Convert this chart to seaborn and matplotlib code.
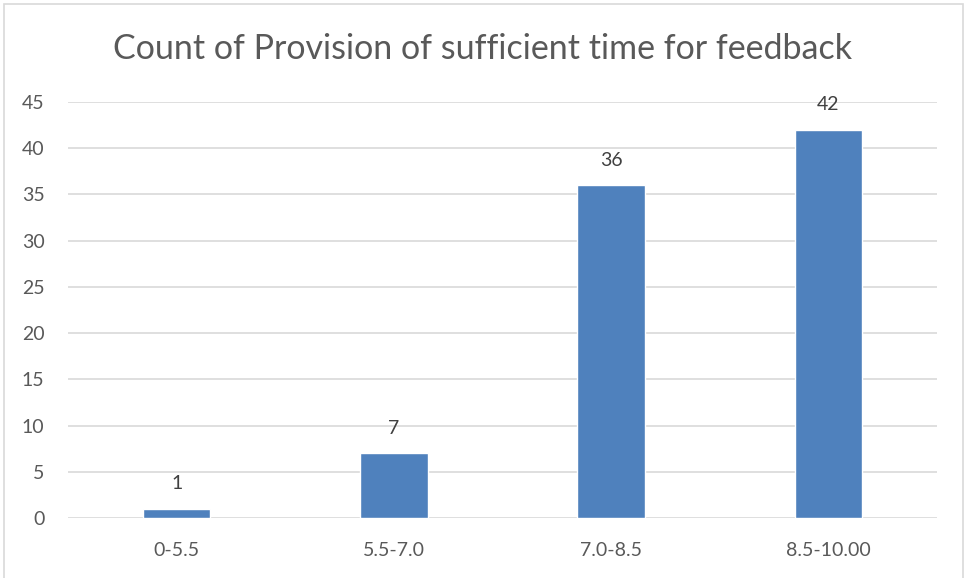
import seaborn as sns
import pandas as pd
import matplotlib.pyplot as plt
from matplotlib.patches import Rectangle

categories = ["0-5.5", "5.5-7.0", "7.0-8.5", "8.5-10.00"]
counts = [1, 7, 36, 42]
title = "Count of Provision of sufficient time for feedback"

df = pd.DataFrame({"range": categories, "count": counts})

sns.set_style("white")
plt.rcParams["font.family"] = ["Lato", "DejaVu Sans"]

fig = plt.figure(figsize=(9.65, 5.78), dpi=100)
ax = fig.add_axes([0.0705, 0.1038, 0.9005, 0.7197])

sns.barplot(df, x="range", y="count", color="#4F81BD", saturation=1, width=0.31, ax=ax)
for c in ax.containers:
    ax.bar_label(c, padding=12, fontsize=14, color="#404040")

ax.set_ylim(0, 45)
ax.set_yticks(range(0, 46, 5))
ax.set_xlim(-0.5, 3.5)
ax.yaxis.grid(True, color="#D9D9D9", linewidth=1.2)
ax.set_axisbelow(True)
for s in ax.spines.values():
    s.set_visible(False)
ax.tick_params(axis="both", length=0, labelsize=14, labelcolor="#595959")
ax.tick_params(axis="y", pad=17)
ax.tick_params(axis="x", pad=17)
ax.set_xlabel("")
ax.set_ylabel("")

fig.text(0.5, 0.915, title, ha="center", va="center", fontsize=24.5, color="#595959")
fig.patches.append(Rectangle((0.004, -0.01), 0.994, 1.003, transform=fig.transFigure,
                             fill=False, edgecolor="#D9D9D9", linewidth=1.2))

plt.savefig("out.png")
